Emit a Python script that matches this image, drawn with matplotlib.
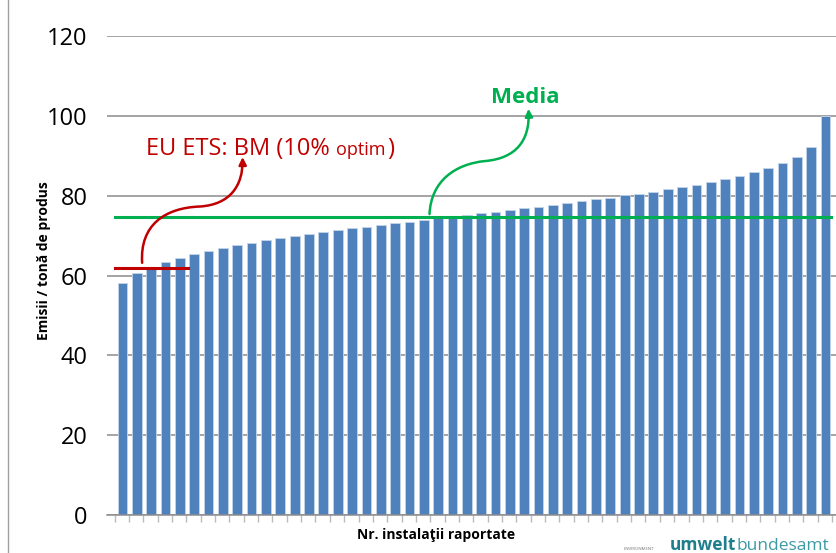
import numpy as np
import matplotlib
matplotlib.use("Agg")
import matplotlib.pyplot as plt
from matplotlib.path import Path
from matplotlib.patches import FancyArrowPatch

# --- DATA ---
values = [58.1, 60.6, 61.8, 63.4, 64.5, 65.4, 66.2, 66.8, 67.6, 68.2,
          68.8, 69.3, 69.8, 70.3, 70.8, 71.3, 71.8, 72.2, 72.6, 73.1,
          73.5, 73.9, 74.4, 74.8, 75.2, 75.6, 75.9, 76.4, 76.9, 77.3,
          77.7, 78.2, 78.6, 79.1, 79.5, 80.1, 80.5, 81.0, 81.7, 82.2,
          82.8, 83.5, 84.2, 85.0, 85.9, 86.9, 88.1, 89.7, 92.3, 100.0]
mean_level = 74.6
benchmark_level = 62.0
y_ticks = [0, 20, 40, 60, 80, 100, 120]

BLUE = "#4F81BD"
GREEN = "#00B050"
RED = "#C00000"
GRID = "#8C8C8C"

plt.rcParams["font.family"] = ["Open Sans", "DejaVu Sans"]

fig = plt.figure(figsize=(8.37, 5.53), dpi=100)
ax = fig.add_axes([0.128, 0.0687, 0.872, 0.866])

x = np.arange(len(values))
ax.bar(x, values, width=0.68, color=BLUE, edgecolor="#C5D5EA", linewidth=0.6, zorder=2)

ax.set_ylim(0, 120)
ax.set_xlim(-1.07, 49.8)
ax.set_yticks(y_ticks)
ax.set_yticklabels([str(t) for t in y_ticks], fontsize=17)
ax.tick_params(axis="y", length=0, pad=14)
ax.grid(axis="y", color=GRID, linewidth=1.1, zorder=0)
ax.set_xticks(np.arange(len(values) + 1) - 0.55)
ax.set_xticklabels([])
ax.tick_params(axis="x", length=5, color="#BBBBBB", width=1)
for s in ["top", "right", "left"]:
    ax.spines[s].set_visible(False)
ax.spines["bottom"].set_color(GRID)
ax.spines["bottom"].set_linewidth(1.1)

# mean and benchmark lines
ax.plot([-0.5, len(values) - 0.6], [mean_level, mean_level], color=GREEN, lw=2.2, zorder=3)
ax.plot([-0.5, 4.6], [benchmark_level, benchmark_level], color=RED, lw=2.2, zorder=3)


def s_curve(pts, color):
    codes = [Path.MOVETO] + [Path.CURVE4] * 6
    p = Path(pts, codes)
    arr = FancyArrowPatch(path=p, arrowstyle="-|>", mutation_scale=11,
                          color=color, lw=1.8, zorder=4)
    ax.add_patch(arr)


# red annotation curve (benchmark -> label)
s_curve([(1.37, 63.2), (1.2, 72.7), (2.97, 77.0), (5.4, 77.3),
         (7.5, 77.8), (8.4, 82.5), (8.37, 89.7)], RED)
# green annotation curve (mean -> label)
s_curve([(21.4, 75.4), (21.5, 83.7), (23.2, 88.0), (25.3, 88.7),
         (27.4, 89.4), (28.4, 93.7), (28.3, 101.8)], GREEN)

# benchmark label, pieces chained one after another on a shared baseline
label_base = 90.2
t1 = ax.text(1.65, label_base, "EU ETS: BM (10% ", color=RED, fontsize=17,
             va="baseline", ha="left")
t2 = ax.annotate("optim", xy=(1, label_base), xycoords=(t1, "data"), color=RED,
                 fontsize=13, va="baseline", ha="left")
ax.annotate(")", xy=(1, label_base), xycoords=(t2, "data"), xytext=(1.5, 0),
            textcoords="offset points", color=RED, fontsize=17,
            va="baseline", ha="left")

ax.text(28.1, 104.5, "Media", color=GREEN, fontsize=16, fontweight="bold",
        ha="center", va="center")

# axis labels
fig.text(44 / 837, 1 - 261 / 553, "Emisii / tonă de produs", rotation=90,
         fontsize=10, fontweight="bold", ha="center", va="center")
fig.text(436 / 837, 1 - 535 / 553, "Nr. instalaţii raportate",
         fontsize=10, fontweight="bold", ha="center", va="center")

# slide border line and logo
fig.add_artist(plt.Line2D([8 / 837, 8 / 837], [0, 1], color="#A0A0A0", lw=1.0))
fig.text(624 / 837, 3 / 553, "ENVIRONMENT", fontsize=3.2, color="#777777",
         ha="left", va="baseline")
l2 = fig.text(670 / 837, 3 / 553, "umwelt", fontsize=12.5, fontweight="bold",
              color="#1F7E8C", ha="left", va="baseline")
fig.text(0, 0, "")
ax.annotate("bundesamt", xy=(1, 3 / 553), xycoords=(l2, "figure fraction"),
            fontsize=12.5, color="#3D9AA6", ha="left", va="baseline",
            annotation_clip=False)

fig.savefig("out.png", dpi=100)
